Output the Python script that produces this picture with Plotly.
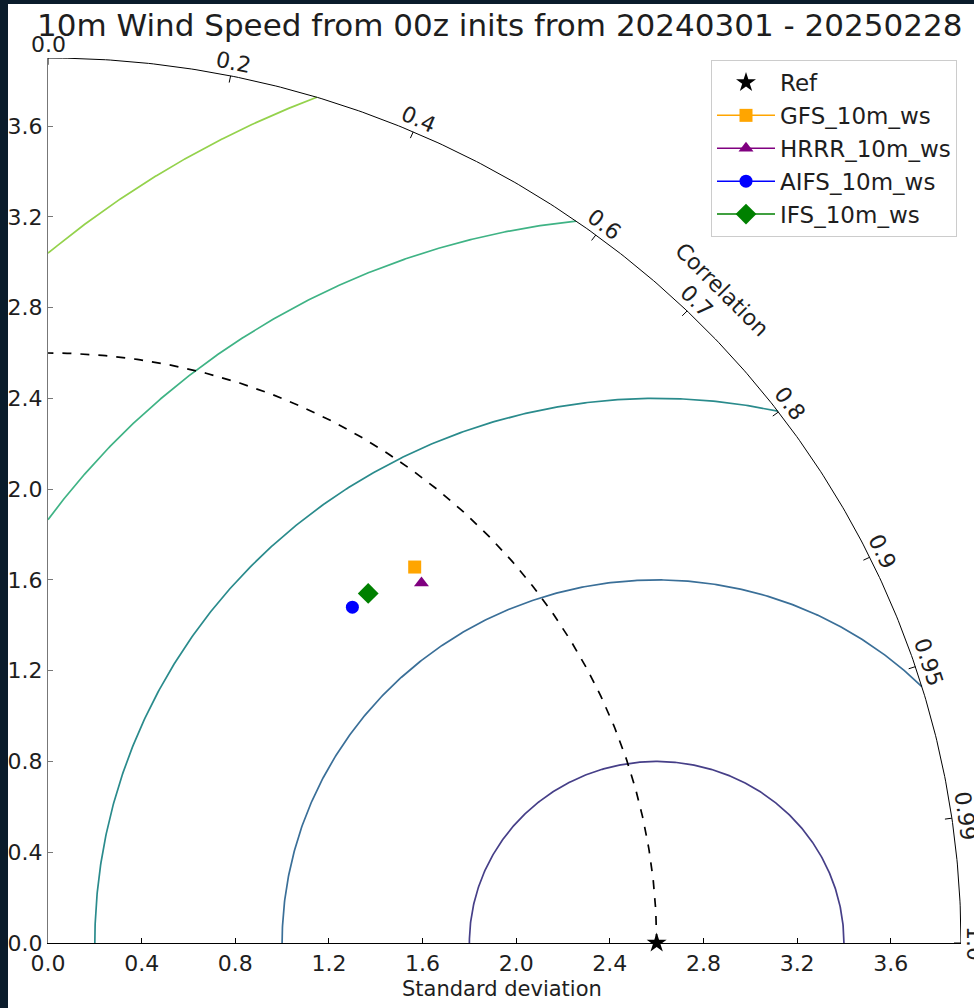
import numpy as np
import plotly.graph_objects as go

# ---- data -------------------------------------------------------------
title = "10m Wind Speed from 00z inits from 20240301 - 20250228"
ref_name = "Ref"
ref_std = 2.6
model_names = ["GFS_10m_ws", "HRRR_10m_ws", "AIFS_10m_ws", "IFS_10m_ws"]
model_std = [2.28, 2.25, 1.97, 2.06]
model_corr = [0.687, 0.709, 0.660, 0.664]
rms_levels = [0.8, 1.6, 2.4, 3.2, 4.0]
corr_ticks = [0.0, 0.2, 0.4, 0.6, 0.7, 0.8, 0.9, 0.95, 0.99, 1.0]
std_ticks = [0.0, 0.4, 0.8, 1.2, 1.6, 2.0, 2.4, 2.8, 3.2, 3.6]
std_max = 3.9

# ---- styles -----------------------------------------------------------
model_colors = ["#ffa500", "#800080", "#0000ff", "#008000"]
model_symbols = ["square", "triangle-up", "circle", "diamond"]
model_sizes = [13, 13, 13, 16]
rms_colors = ["#463f88", "#3a6f98", "#2a8b8c", "#3fb385", "#94d24c"]
FONT = "DejaVu Sans"
TXT = "#1e1e1e"
W, H = 974, 1008
ML, MR, MT, MB = 48, 13, 58, 65
PW, PH = W - ML - MR, H - MT - MB


def px_to_paper(px, py):
    return (px - ML) / PW, (H - MB - py) / PH


fig = go.Figure()

# RMS-difference contours centred on the reference point, clipped to the quadrant
for r, col in zip(rms_levels, rms_colors):
    x_outer = (std_max**2 - r**2 + ref_std**2) / (2 * ref_std)
    x_hi = min(ref_std + r, x_outer)
    x_lo = max(ref_std - r, 0.0)
    phi_lo = np.arccos(np.clip((x_hi - ref_std) / r, -1, 1))
    phi_hi = np.arccos(np.clip((x_lo - ref_std) / r, -1, 1))
    phi = np.linspace(phi_lo, phi_hi, 400)
    fig.add_trace(go.Scatter(
        x=ref_std + r * np.cos(phi), y=r * np.sin(phi), mode="lines",
        line=dict(color=col, width=1.7), showlegend=False, hoverinfo="skip"))

# reference standard deviation arc
th = np.linspace(0, np.pi / 2, 300)
fig.add_trace(go.Scatter(
    x=ref_std * np.cos(th), y=ref_std * np.sin(th), mode="lines",
    line=dict(color="black", width=1.7, dash="dash"),
    showlegend=False, hoverinfo="skip"))

# outer boundary arc
fig.add_trace(go.Scatter(
    x=std_max * np.cos(th), y=std_max * np.sin(th), mode="lines",
    line=dict(color="black", width=1), showlegend=False, hoverinfo="skip"))

# correlation tick marks on the outer arc
tx, ty = [], []
for c in corr_ticks:
    a = np.arccos(c)
    tx += [std_max * np.cos(a), (std_max - 0.03) * np.cos(a), None]
    ty += [std_max * np.sin(a), (std_max - 0.03) * np.sin(a), None]
fig.add_trace(go.Scatter(x=tx, y=ty, mode="lines",
                         line=dict(color="black", width=1),
                         showlegend=False, hoverinfo="skip"))

# reference point
fig.add_trace(go.Scatter(
    x=[ref_std], y=[0], mode="markers", name=ref_name,
    marker=dict(symbol="star", size=15, color="black"),
    cliponaxis=False, legendgroup="ref"))

# model points
for name, s, c, col, sym, sz in zip(model_names, model_std, model_corr,
                                    model_colors, model_symbols, model_sizes):
    a = np.arccos(c)
    fig.add_trace(go.Scatter(
        x=[s * np.cos(a)], y=[s * np.sin(a)], mode="lines+markers", name=name,
        marker=dict(symbol=sym, size=sz, color=col),
        line=dict(color=col, width=1.5), legendgroup=name))

annotations = []
# correlation tick labels (placed in paper units so labels beyond the range show)
for c in corr_ticks:
    a = np.arccos(c)
    rr = std_max + 0.06
    annotations.append(dict(
        x=rr * np.cos(a) / std_max, y=rr * np.sin(a) / std_max,
        xref="paper", yref="paper",
        text=f"{c:g}" if c not in (0.0, 1.0) else f"{c:.1f}",
        showarrow=False, textangle=90 - np.degrees(a),
        font=dict(family=FONT, size=22, color=TXT),
        xanchor="center", yanchor="middle"))

# correlation axis label
rc = 4.07
annotations.append(dict(
    x=rc * np.cos(np.pi / 4) / std_max, y=rc * np.sin(np.pi / 4) / std_max,
    xref="paper", yref="paper",
    text="Correlation", showarrow=False, textangle=45,
    xanchor="center", yanchor="middle",
    font=dict(family=FONT, size=22, color=TXT)))

# x-axis label
xl, yl = px_to_paper(502, 989)
annotations.append(dict(x=xl, y=yl, xref="paper", yref="paper",
                        text="Standard deviation", showarrow=False,
                        xanchor="center", yanchor="middle",
                        font=dict(family=FONT, size=21, color=TXT)))

# title
xt, yt = px_to_paper(499, 25)
annotations.append(dict(x=xt, y=yt, xref="paper", yref="paper", text=title,
                        showarrow=False, xanchor="center", yanchor="middle",
                        font=dict(family=FONT, size=31, color=TXT)))

# white page on the dark surround
x0, y0 = px_to_paper(8, 1008)
x1, y1 = px_to_paper(974, 4)
shapes = [dict(type="rect", xref="paper", yref="paper", x0=x0, y0=y0,
               x1=x1, y1=y1, fillcolor="white", line=dict(width=0),
               layer="below")]

lx, ly = px_to_paper(711, 60)
fig.update_layout(
    width=W, height=H,
    margin=dict(l=ML, r=MR, t=MT, b=MB, pad=0),
    paper_bgcolor="#0a1c2b", plot_bgcolor="white",
    font=dict(family=FONT, size=22, color=TXT),
    shapes=shapes, annotations=annotations,
    legend=dict(x=lx, y=ly, xanchor="left", yanchor="top",
                bordercolor="#cccccc", borderwidth=1, bgcolor="white",
                font=dict(family=FONT, size=23, color=TXT),
                traceorder="grouped", tracegroupgap=0, itemwidth=58),
    xaxis=dict(range=[0, std_max], tickvals=std_ticks, tickformat=".1f",
               showgrid=False, zeroline=False, showline=True,
               linecolor="black", linewidth=1.2, ticks="inside", ticklen=5,
               tickcolor="black", mirror=False, automargin=False,
               tickfont=dict(family=FONT, size=22, color=TXT)),
    yaxis=dict(range=[0, std_max], tickvals=std_ticks, tickformat=".1f",
               showgrid=False, zeroline=False, showline=True,
               linecolor="#777777", linewidth=1.2, ticks="inside", ticklen=5,
               tickcolor="#777777", mirror=False, automargin=False,
               tickfont=dict(family=FONT, size=22, color=TXT)),
)

fig.write_html("out.html")
